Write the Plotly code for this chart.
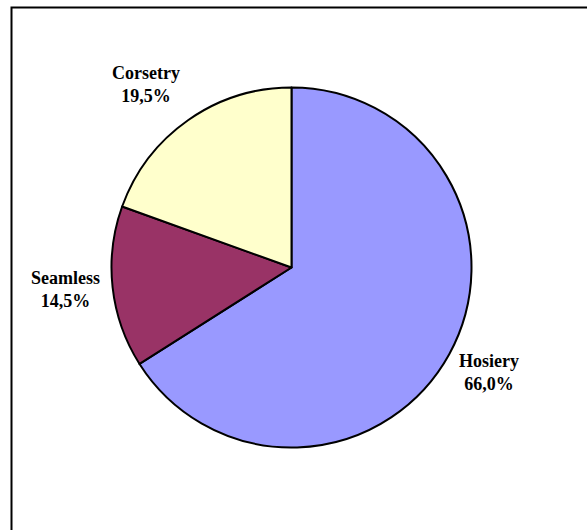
import plotly.graph_objects as go

categories = ["Hosiery", "Seamless", "Corsetry"]
shares = [66.0, 14.5, 19.5]
colors = ["#9999FF", "#993366", "#FFFFCC"]

W, H = 587, 530
cx, cy, r = 291.5, 267.5, 180.0

fig = go.Figure(go.Pie(
    labels=categories,
    values=shares,
    sort=False,
    direction="clockwise",
    rotation=0,
    textinfo="none",
    hoverinfo="skip",
    marker=dict(colors=colors, line=dict(color="black", width=2)),
    domain=dict(x=[(cx - r) / W, (cx + r) / W], y=[(H - cy - r) / H, (H - cy + r) / H]),
    showlegend=False,
))

# label anchor points (pixel centers)
label_pos = {"Hosiery": (489, 372), "Seamless": (65, 289), "Corsetry": (146, 85)}
for name, val in zip(categories, shares):
    px, py = label_pos[name]
    fig.add_annotation(
        x=px / W, y=1 - py / H, xref="paper", yref="paper",
        text=f"<b>{name}<br>{val:.1f}%</b>".replace(".", ","),
        showarrow=False, xanchor="center", yanchor="middle",
        font=dict(family="Liberation Serif", size=18, color="black"),
    )

fig.add_shape(type="rect", xref="paper", yref="paper",
              x0=11.5 / W, x1=1.1, y0=-0.1, y1=1 - 7.5 / H,
              line=dict(color="black", width=2), fillcolor="rgba(0,0,0,0)")

fig.update_layout(width=W, height=H, margin=dict(l=0, r=0, t=0, b=0),
                  paper_bgcolor="white", plot_bgcolor="white")
fig.write_html("out.html")
